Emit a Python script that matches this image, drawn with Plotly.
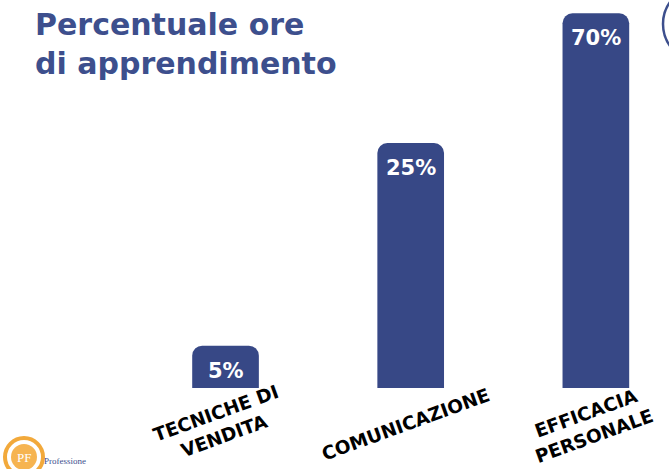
import math
import plotly.graph_objects as go

# Learning-hours share by training area
categories = ["TECNICHE DI<br>VENDITA", "COMUNICAZIONE", "EFFICACIA<br>PERSONALE"]
values = [5, 25, 70]
value_labels = ["5%", "25%", "70%"]

BAR_COLOR = "#374886"
TITLE_COLOR = "#3d4f8d"
W, H = 669, 469
M_T, M_B = 13, 81
plot_h = H - M_T - M_B

fig = go.Figure(
    go.Bar(
        x=list(range(len(categories))),
        y=values,
        marker=dict(color=BAR_COLOR, line=dict(width=0)),
        width=0.36,
        hoverinfo="skip",
    )
)

# value labels near the top of each bar
for i, (v, lab) in enumerate(zip(values, value_labels)):
    fig.add_annotation(
        x=i, y=math.log10(v), xref="x", yref="y",
        text=lab, showarrow=False, xanchor="center", yanchor="middle",
        yshift=-25,
        font=dict(family="DejaVu Sans", size=21, color="white", weight="bold"),
    )

# rotated category labels under the bars
for i, cat in enumerate(categories):
    fig.add_annotation(
        x=i - 0.03, y=0, xref="x", yref="paper",
        text=cat, showarrow=False, xanchor="center", yanchor="middle",
        yshift=-36, textangle=-20, align="center",
        font=dict(family="DejaVu Sans", size=18.5, color="black", weight="bold"),
    )

def px_x(p):
    return p / W

def px_y(p):
    return (H - M_B - p) / plot_h

# title, top-left
fig.add_annotation(
    x=px_x(33), y=px_y(5), xref="paper", yref="paper",
    text="Percentuale ore<br>di apprendimento", showarrow=False,
    xanchor="left", yanchor="top", align="left",
    font=dict(family="DejaVu Sans", size=30, color=TITLE_COLOR, weight="bold"),
)

# logo at bottom-left corner
fig.add_shape(type="circle", xref="paper", yref="paper",
              x0=px_x(5), x1=px_x(43), y0=px_y(476), y1=px_y(438),
              line=dict(color="#f2a93b", width=4), fillcolor="white", layer="above")
fig.add_shape(type="circle", xref="paper", yref="paper",
              x0=px_x(11), x1=px_x(37), y0=px_y(470), y1=px_y(444),
              line=dict(width=0), fillcolor="#f6b451", layer="above")
fig.add_annotation(x=px_x(24), y=px_y(457), xref="paper", yref="paper",
                   text="PF", showarrow=False, xanchor="center", yanchor="middle",
                   font=dict(family="Liberation Serif", size=13, color="white"))
fig.add_annotation(x=px_x(42), y=px_y(461), xref="paper", yref="paper",
                   text="Professione", showarrow=False, xanchor="left", yanchor="middle",
                   font=dict(family="Liberation Serif", size=9, color="#3d4f8d"))

# arc in the top-right corner
fig.add_shape(type="circle", xref="paper", yref="paper",
              x0=px_x(663), x1=px_x(740), y0=px_y(62), y1=px_y(-14),
              line=dict(color="#3d4f8d", width=2.5), layer="above")

fig.update_layout(
    width=W, height=H,
    margin=dict(l=0, r=0, t=M_T, b=M_B),
    paper_bgcolor="white", plot_bgcolor="white",
    barcornerradius=10,
    showlegend=False,
    xaxis=dict(range=[-1.218, 2.395], showticklabels=False, showgrid=False,
               zeroline=False, showline=False, ticks=""),
    yaxis=dict(type="log", range=[0.553, 1.846], showticklabels=False,
               showgrid=False, zeroline=False, showline=False, ticks=""),
)

fig.write_html("out.html")
